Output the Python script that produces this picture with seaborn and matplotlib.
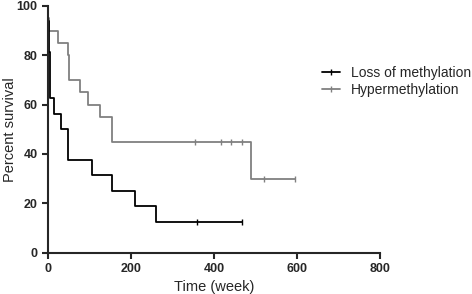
import seaborn as sns
import matplotlib.pyplot as plt
from matplotlib.lines import Line2D
import pandas as pd

# Kaplan-Meier curves
loss_time = [0, 1, 2, 3, 4, 5, 6, 15, 31, 48, 106, 155, 209, 261, 468]
loss_surv = [100, 93.75, 87.5, 81.25, 75, 68.75, 62.5, 56.25, 50, 37.5, 31.25, 25, 18.75, 12.5, 12.5]
loss_cens_time = [359, 468]
loss_cens_surv = [12.5, 12.5]

hyper_time = [0, 1, 3, 23, 47, 50, 78, 96, 126, 155, 490, 595]
hyper_surv = [100, 95, 90, 85, 80, 70, 65, 60, 55, 45, 30, 30]
hyper_cens_time = [355, 416, 440, 467, 520, 595]
hyper_cens_surv = [45, 45, 45, 45, 30, 30]

groups = ['Loss of methylation', 'Hypermethylation']
colors = ['#000000', '#808080']

sns.set_style('ticks')
plt.rcParams['font.family'] = ['Liberation Sans', 'DejaVu Sans']

fig = plt.figure(figsize=(4.72, 2.94), dpi=100)
ax = fig.add_axes([48 / 472, 1 - 252.5 / 294, 332 / 472, 246.5 / 294])

curves = [(loss_time, loss_surv, loss_cens_time, loss_cens_surv),
          (hyper_time, hyper_surv, hyper_cens_time, hyper_cens_surv)]
for (t, s, ct, cs), name, col in zip(curves[::-1], groups[::-1], colors[::-1]):
    df = pd.DataFrame({'t': t, 's': s})
    sns.lineplot(data=df, x='t', y='s', ax=ax, color=col, lw=1.3,
                 drawstyle='steps-post', estimator=None, sort=False)
    cdf = pd.DataFrame({'t': ct, 's': cs})
    sns.scatterplot(data=cdf, x='t', y='s', ax=ax, color=col, marker='|',
                    s=20, linewidth=1.0)

ax.set_xlim(0, 800)
ax.set_ylim(0, 100)
ax.set_xticks([0, 200, 400, 600, 800])
ax.set_yticks([0, 20, 40, 60, 80, 100])
ax.set_xlabel('Time (week)', fontsize=10.5)
ax.set_ylabel('Percent survival', fontsize=10.5)
ax.yaxis.set_label_coords(-0.094, 0.5)
for sp in ['top', 'right']:
    ax.spines[sp].set_visible(False)
for sp in ['left', 'bottom']:
    ax.spines[sp].set_linewidth(1.5)
ax.tick_params(width=1.5, length=4, labelsize=9)
for lab in ax.get_xticklabels() + ax.get_yticklabels():
    lab.set_fontweight('bold')

handles = [Line2D([0], [0], color=c, lw=1.3, marker='|', markersize=4) for c in colors]
fig.legend(handles, groups, loc='upper left', bbox_to_anchor=(322 / 472, 1 - 66 / 294),
           frameon=False, fontsize=10, handlelength=1.3, handletextpad=0.8,
           borderpad=0, borderaxespad=0, labelspacing=0.2)

fig.savefig('out.png', dpi=100)
